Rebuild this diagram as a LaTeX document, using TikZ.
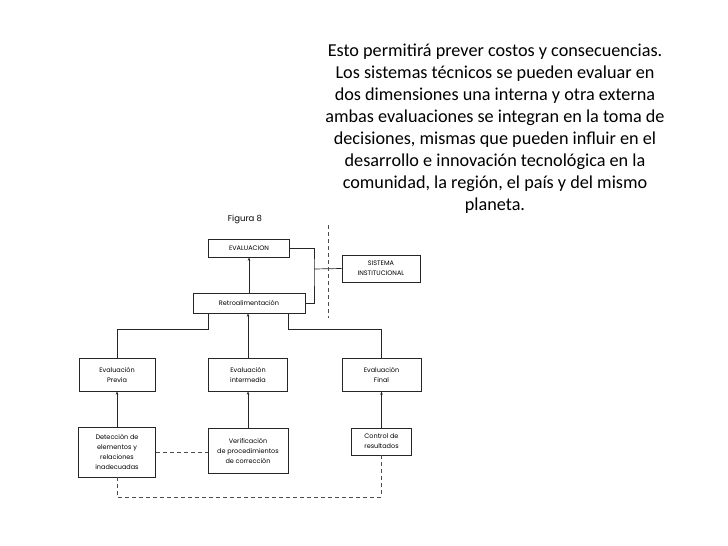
\documentclass[tikz,border=0pt]{standalone}
\usepackage{fontspec}
\setmainfont{Carlito}
\newfontfamily\diag{Poppins}
\usetikzlibrary{arrows.meta}
\begin{document}
\begin{tikzpicture}[x=1pt,y=-1pt,
  bx/.style={draw=black!85,line width=0.7pt,inner sep=0pt,align=center,font=\diag\fontsize{6.5}{10}\selectfont},
  ln/.style={draw=black!85,line width=0.7pt},
  arr/.style={ln,-{Stealth[length=3.5pt,width=2.5pt]}},
  dsh/.style={draw=black!70,line width=0.6pt,dash pattern=on 4pt off 3pt}]
\useasboundingbox (0,0) rectangle (728,546);
\node[align=center,font=\fontsize{18.2}{22}\selectfont,anchor=north] (txt) at (495,40)
 {Esto permitirá prever costos y consecuencias.\\
  Los sistemas técnicos se pueden evaluar en\\
  dos dimensiones una interna y otra externa\\
  ambas evaluaciones se integran en la toma de\\
  decisiones, mismas que pueden influir en el\\
  desarrollo e innovación tecnológica en la\\
  comunidad, la región, el país y del mismo\\
  planeta.};
\node[font=\diag\fontsize{8.5}{10}\selectfont] (fig) at (245,219) {Figura 8};
\node[bx,minimum width=81pt,minimum height=18pt] (eval) at (249,248) {EVALUACION};
\node[bx,minimum width=78pt,minimum height=27pt] (sis) at (381,268.5) {SISTEMA\\INSTITUCIONAL};
\node[bx,minimum width=112pt,minimum height=20pt] (retro) at (249,303) {Retroalimentación};
\node[bx,minimum width=76pt,minimum height=33pt] (previa) at (117,374.5) {Evaluación\\Previa};
\node[bx,minimum width=79pt,minimum height=33pt] (inter) at (248,374.5) {Evaluación\\intermedia};
\node[bx,minimum width=79pt,minimum height=33pt] (final) at (381.5,374.5) {Evaluación\\Final};
\node[bx,minimum width=77pt,minimum height=50pt] (detec) at (117,452) {Detección de\\elementos y\\relaciones\\inadecuadas};
\node[bx,minimum width=80pt,minimum height=45pt] (verif) at (248,450.5) {Verificación\\de procedimientos\\de corrección};
\node[bx,minimum width=60pt,minimum height=27pt] (control) at (381.5,441.5) {Control de\\resultados};
% junctions
\coordinate (j) at (314,269);
\coordinate (bl) at (208,313);
\coordinate (br) at (288,313);
\coordinate (dl) at (117,497);
\coordinate (vt) at (328,225);
\coordinate (vb) at (328,318);
% connectors
\draw[arr] (retro.north) -- (eval.south);
\draw[ln] (eval.east) -| (j) |- (retro.east);
\draw[ln] (j) -- (sis.west);
\draw[dsh] (vt) -- (vb);
\draw[ln] (bl) -- ++(0,16) -| (previa.north);
\draw[ln] (br) -- ++(0,16) -| (final.north);
\draw[arr] (inter.north) -- (inter.north |- retro.south);
\draw[arr] (detec.north) -- (previa.south);
\draw[arr] (verif.north) -- (inter.south);
\draw[arr] (control.north) -- (final.south);
\draw[dsh] (detec.east) -- (detec.east -| verif.west);
\draw[dsh] (detec.south) -- (dl) -| (control.south);
\end{tikzpicture}
\end{document}
